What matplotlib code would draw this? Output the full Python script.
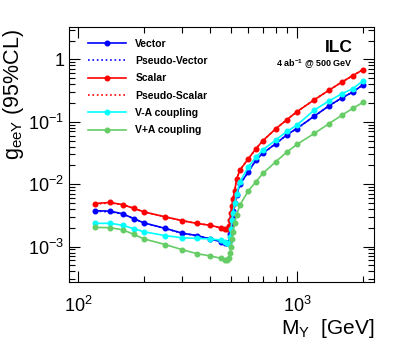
import matplotlib
matplotlib.use("Agg")
import matplotlib.pyplot as plt
from matplotlib.ticker import LogLocator, NullFormatter, LogFormatterMathtext

plt.rcParams["font.family"] = ["Liberation Sans", "DejaVu Sans"]
plt.rcParams["mathtext.fontset"] = "custom"
plt.rcParams["mathtext.rm"] = "Liberation Sans"
plt.rcParams["mathtext.it"] = "Liberation Sans:italic"
plt.rcParams["mathtext.bf"] = "Liberation Sans:bold"

# masse do bosão Y (GeV)
massas = [120, 140, 160, 180, 200, 250, 300, 350, 400, 450, 470, 480, 490, 495,
          500, 505, 510, 520, 530, 550, 600, 650, 700, 800, 900, 1000, 1200,
          1400, 1600, 1800, 2000]

vetor = [0.00375, 0.0037, 0.00336, 0.0028, 0.0024, 0.00196, 0.00164, 0.0015,
         0.00133, 0.0012, 0.00115, 0.00113, 0.0012, 0.0016, 0.0022, 0.003,
         0.0037, 0.005, 0.0068, 0.0100, 0.0158, 0.0243, 0.0315, 0.0444, 0.062,
         0.078, 0.123, 0.18, 0.24, 0.30, 0.39]
pseudo_vetor = [0.0037, 0.0036, 0.00333, 0.0028, 0.0024, 0.00195, 0.00163,
                0.0015, 0.00133, 0.0012, 0.00115, 0.00113, 0.0012, 0.0016,
                0.0022, 0.003, 0.0037, 0.005, 0.0068, 0.0100, 0.0158, 0.0243,
                0.0315, 0.0444, 0.062, 0.078, 0.123, 0.18, 0.24, 0.30, 0.39]
escalar = [0.0049, 0.0051, 0.0047, 0.0041, 0.0036, 0.0030, 0.0026, 0.00235,
           0.0022, 0.0020, 0.0019, 0.0019, 0.0021, 0.0027, 0.0035, 0.0045,
           0.0058, 0.0078, 0.012, 0.017, 0.0255, 0.037, 0.050, 0.077, 0.108,
           0.145, 0.225, 0.32, 0.43, 0.55, 0.68]
pseudo_escalar = [0.0048, 0.0050, 0.0047, 0.0041, 0.0036, 0.0030, 0.0026,
                  0.00235, 0.0022, 0.0020, 0.0019, 0.0019, 0.0021, 0.0027,
                  0.0035, 0.0045, 0.0058, 0.0078, 0.012, 0.017, 0.0255, 0.037,
                  0.050, 0.077, 0.108, 0.145, 0.225, 0.32, 0.43, 0.55, 0.68]
acoplamento_vma = [0.00236, 0.00236, 0.0022, 0.00193, 0.00173, 0.0015, 0.00138,
                   0.00135, 0.00133, 0.00127, 0.0012, 0.00115, 0.0011, 0.0014,
                   0.0019, 0.0027, 0.0035, 0.005, 0.007, 0.011, 0.019, 0.027,
                   0.0356, 0.051, 0.070, 0.0885, 0.154, 0.215, 0.28, 0.34, 0.45]
acoplamento_vpa = [0.00203, 0.00201, 0.00186, 0.00157, 0.00133, 0.00108,
                   0.00089, 0.00077, 0.00071, 0.00065, 0.00062, 0.0006,
                   0.00065, 0.0008, 0.001, 0.0013, 0.0017, 0.0024, 0.0032,
                   0.0047, 0.0078, 0.011, 0.0149, 0.0229, 0.0327, 0.0434,
                   0.065, 0.093, 0.127, 0.164, 0.204]

series = [
    ("Vector", vetor, "#0000ff", "-", "o"),
    ("Pseudo-Vector", pseudo_vetor, "#0000ff", ":", None),
    ("Scalar", escalar, "#ff0000", "-", "o"),
    ("Pseudo-Scalar", pseudo_escalar, "#ff0000", ":", None),
    ("V-A coupling", acoplamento_vma, "#00ffff", "-", "o"),
    ("V+A coupling", acoplamento_vpa, "#66cc66", "-", "o"),
]

fig = plt.figure(figsize=(4.07, 3.44), dpi=100)
ax = fig.add_axes([0.1695, 0.180, 0.7495, 0.7415])

for nome, valores, cor, estilo, marcador in series:
    ax.plot(massas, valores, color=cor, linestyle=estilo, marker=marcador,
            markersize=3.3, linewidth=1.2, label=nome)

ax.set_xscale("log")
ax.set_yscale("log")
ax.set_xlim(91, 2250)
ax.set_ylim(2.7e-4, 3.3)

for eixo in (ax.xaxis, ax.yaxis):
    eixo.set_major_locator(LogLocator(base=10))
    eixo.set_minor_locator(LogLocator(base=10, subs=range(2, 10)))
    eixo.set_minor_formatter(NullFormatter())
ax.yaxis.set_major_formatter(
    matplotlib.ticker.FuncFormatter(lambda v, p: "1" if abs(v - 1) < 1e-9 else LogFormatterMathtext()(v, p)))
ax.tick_params(which="both", direction="in", top=True, right=True, labelsize=13)
ax.tick_params(which="major", length=8, width=0.8)
ax.tick_params(which="minor", length=4, width=0.8)
ax.tick_params(axis="x", pad=10)

ax.set_ylabel(r"g$_{\mathrm{eeY}}$ (95%CL)", fontsize=15.5, loc="top")
ax.yaxis.set_label_coords(-0.14, 0.99)
ax.set_xlabel(r"M$_{\mathrm{Y}}$  [GeV]", fontsize=15, loc="right")
ax.xaxis.set_label_coords(1.0, -0.135)

ax.legend(loc="upper left", bbox_to_anchor=(0.05, 0.97), frameon=False,
          prop={"weight": "bold", "size": 7.5}, handlelength=3.6,
          labelspacing=0.7, handletextpad=0.9, borderaxespad=0)

ax.text(0.93, 0.92, "ILC", transform=ax.transAxes, ha="right", va="center",
        fontsize=12.5, fontweight="bold")
ax.text(0.93, 0.855, r"4 ab$^{\mathbf{-1}}$ @ 500 GeV", transform=ax.transAxes,
        ha="right", va="center", fontsize=6.5, fontweight="bold")

fig.savefig("out.png", dpi=100)
